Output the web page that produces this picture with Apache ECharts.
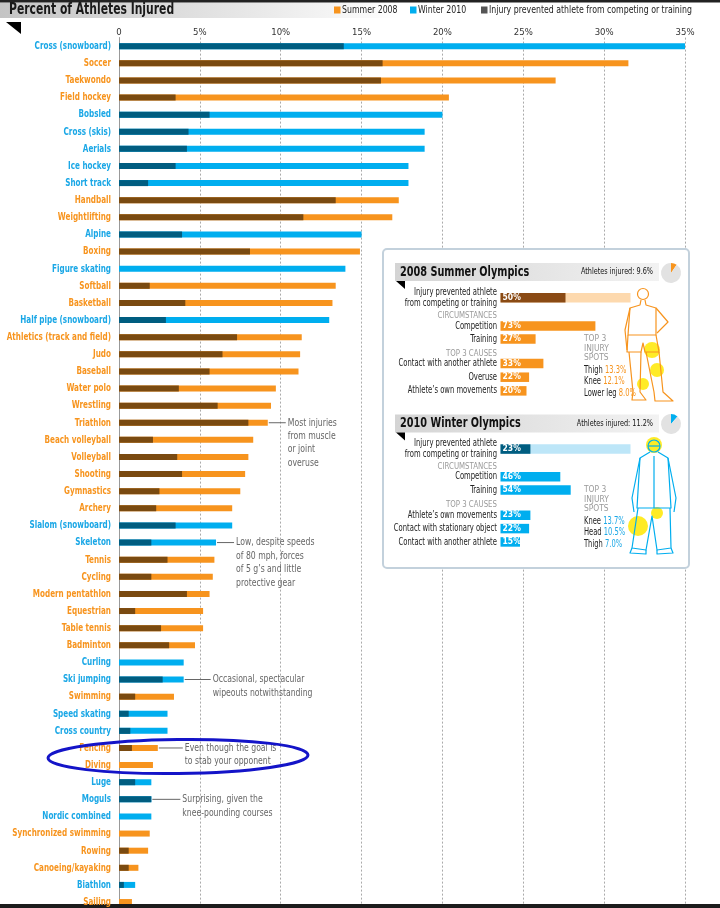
<!DOCTYPE html>
<html>
<head>
<meta charset="utf-8">
<script src="https://cdn.jsdelivr.net/npm/echarts@6/dist/echarts.min.js"></script>
<style>
  html, body { margin: 0; padding: 0; background: #fff; }
  #chart { width: 720px; height: 908px; }
</style>
</head>
<body>
<div id="chart"></div>
<script>
// main chart data, top to bottom
var sports = ['Cross (snowboard)', 'Soccer', 'Taekwondo', 'Field hockey', 'Bobsled', 'Cross (skis)', 'Aerials',
  'Ice hockey', 'Short track', 'Handball', 'Weightlifting', 'Alpine', 'Boxing', 'Figure skating', 'Softball',
  'Basketball', 'Half pipe (snowboard)', 'Athletics (track and field)', 'Judo', 'Baseball', 'Water polo',
  'Wrestling', 'Triathlon', 'Beach volleyball', 'Volleyball', 'Shooting', 'Gymnastics', 'Archery',
  'Slalom (snowboard)', 'Skeleton', 'Tennis', 'Cycling', 'Modern pentathlon', 'Equestrian', 'Table tennis',
  'Badminton', 'Curling', 'Ski jumping', 'Swimming', 'Speed skating', 'Cross country', 'Fencing', 'Diving',
  'Luge', 'Moguls', 'Nordic combined', 'Synchronized swimming', 'Rowing', 'Canoeing/kayaking', 'Biathlon', 'Sailing'];
var games = ['W', 'S', 'S', 'S', 'W', 'W', 'W', 'W', 'W', 'S', 'S', 'W', 'S', 'W', 'S', 'S', 'W', 'S', 'S', 'S', 'S',
  'S', 'S', 'S', 'S', 'S', 'S', 'S', 'W', 'W', 'S', 'S', 'S', 'S', 'S', 'S', 'W', 'W', 'S', 'W', 'W', 'S', 'S',
  'W', 'W', 'W', 'S', 'S', 'S', 'W', 'S'];
var injured = [35.0, 31.5, 27.0, 20.4, 20.0, 18.9, 18.9, 17.9, 17.9, 17.3, 16.9, 15.0, 14.9, 14.0, 13.4, 13.2, 13.0,
  11.3, 11.2, 11.1, 9.7, 9.4, 9.2, 8.3, 8.0, 7.8, 7.5, 7.0, 7.0, 6.0, 5.9, 5.8, 5.6, 5.2, 5.2, 4.7, 4.0, 4.0, 3.4,
  3.0, 3.0, 2.4, 2.1, 2.0, 2.0, 2.0, 1.9, 1.8, 1.2, 1.0, 0.8];
var prevented = [13.9, 16.3, 16.2, 3.5, 5.6, 4.3, 4.2, 3.5, 1.8, 13.4, 11.4, 3.9, 8.1, 0, 1.9, 4.1, 2.9,
  7.3, 6.4, 5.6, 3.7, 6.1, 8.0, 2.1, 3.6, 3.9, 2.5, 2.3, 3.5, 2.0, 3.0, 2.0, 4.2, 1.0, 2.6, 3.1, 0, 2.7, 1.0,
  0.6, 0.7, 0.8, 0, 1.0, 2.0, 0, 0, 0.6, 0.6, 0.3, 0];

// notes beside some bars: [sport, connector length, lines]
var notes = [
  ['Triathlon', 18, ['Most injuries', 'from muscle', 'or joint', 'overuse']],
  ['Skeleton', 18, ['Low, despite speeds', 'of 80 mph, forces', 'of 5 g\u2019s and little', 'protective gear']],
  ['Ski jumping', 27, ['Occasional, spectacular', 'wipeouts notwithstanding']],
  ['Fencing', 25, ['Even though the goal is', 'to stab your opponent']],
  ['Moguls', 29, ['Surprising, given the', 'knee-pounding courses']]
];

// inset: 2008 summer
var summerInjured = 9.6;
var summerPrevented = 50;
var summerCircLabels = ['Competition', 'Training'];
var summerCirc = [73, 27];
var summerCauseLabels = ['Contact with another athlete', 'Overuse', 'Athlete\u2019s own movements'];
var summerCauses = [33, 22, 20];
var summerSpots = ['Thigh', 'Knee', 'Lower leg'];
var summerSpotValues = ['13.3%', '12.1%', '8.0%'];

// inset: 2010 winter
var winterInjured = 11.2;
var winterPrevented = 23;
var winterCircLabels = ['Competition', 'Training'];
var winterCirc = [46, 54];
var winterCauseLabels = ['Athlete\u2019s own movements', 'Contact with stationary object', 'Contact with another athlete'];
var winterCauses = [23, 22, 15];
var winterSpots = ['Knee', 'Head', 'Thigh'];
var winterSpotValues = ['13.7%', '10.5%', '7.0%'];

var FONT = "'Liberation Sans Narrow', 'DejaVu Sans Condensed', sans-serif";
var ORANGE = '#f7941e', BLUE = '#00aeef', BROWN = '#7a4a10', TEAL = '#005d80';
var LABEL_BLUE = '#1aa7e6';

var chart = echarts.init(document.getElementById('chart'));

function pick(arr, g) {
  return arr.map(function (v, i) { return games[i] === g && v > 0 ? v : '-'; });
}

// narrow text: the print font is much more condensed than anything installed
function txt(x, y, text, font, fill, o) {
  o = o || {};
  return {
    type: 'text', z: o.z || 30, x: x, y: y, scaleX: o.sx || 0.78, silent: true,
    style: { x: 0, y: 0, text: text, font: font + ' ' + FONT, fill: fill,
      align: o.align || 'left', verticalAlign: o.va || 'middle', lineHeight: o.lh, rich: o.rich }
  };
}

var grids = [{ left: 119, right: 35, top: 37.6, height: 873, outerBoundsMode: 'none' }];
var xAxes = [{
  type: 'value', position: 'top', min: 0, max: 35, interval: 5,
  axisLine: { show: false }, axisTick: { show: false },
  axisLabel: { fontFamily: FONT, fontSize: 9.5, color: '#333', margin: 0,
    formatter: function (v) { return v === 0 ? '0' : v + '%'; } },
  splitLine: { lineStyle: { color: '#aaa', type: [2, 2], width: 1 } }
}];
var yAxes = [{
  type: 'category', inverse: true, data: sports,
  axisLine: { lineStyle: { color: '#999' } }, axisTick: { show: false }, axisLabel: { show: false }
}];
var series = [
  { name: 'Summer 2008', type: 'bar', data: pick(injured, 'S'), barWidth: 6, barGap: '-100%', itemStyle: { color: ORANGE } },
  { name: 'Winter 2010', type: 'bar', data: pick(injured, 'W'), barWidth: 6, barGap: '-100%', itemStyle: { color: BLUE } },
  { name: 'Prevented (summer)', type: 'bar', data: pick(prevented, 'S'), barWidth: 6, barGap: '-100%', itemStyle: { color: BROWN } },
  { name: 'Prevented (winter)', type: 'bar', data: pick(prevented, 'W'), barWidth: 6, barGap: '-100%', itemStyle: { color: TEAL } }
];

// one small bar panel inside the inset box
var panels = [];
function panel(top, height, labels, values, color, bg) {
  var k = grids.length;
  panels.push({ k: k, labels: labels });
  grids.push({ left: 500.5, top: top, width: 130, height: height, outerBoundsMode: 'none' });
  xAxes.push({ gridIndex: k, type: 'value', min: 0, max: 100, show: false });
  yAxes.push({ gridIndex: k, type: 'category', inverse: true, data: labels, show: false });
  series.push({
    type: 'bar', xAxisIndex: k, yAxisIndex: k, data: values, barWidth: 9.5, z: 20, silent: true,
    itemStyle: { color: color },
    showBackground: !!bg, backgroundStyle: { color: bg || 'transparent' },
    label: { show: true, position: 'insideLeft', distance: 2, formatter: '{c}%',
      fontFamily: FONT, fontSize: 8.5, fontWeight: 'bold', color: '#fff' }
  });
}

var twoLine = ['Injury prevented athlete\nfrom competing or training'];
panel(293, 9.5, twoLine, [summerPrevented], '#8a4a14', '#fdd9ae');
panel(319.5, 26, summerCircLabels, summerCirc, ORANGE);
panel(356.7, 41, summerCauseLabels, summerCauses, ORANGE);
panel(444.3, 9.5, twoLine, [winterPrevented], TEAL, '#bde6f8');
panel(470.2, 26.4, winterCircLabels, winterCirc, BLUE);
panel(508.6, 40, winterCauseLabels, winterCauses, BLUE);

function smallPie(cy, v, color) {
  series.push({
    type: 'pie', center: [671, cy], radius: 10, z: 20, silent: true, label: { show: false },
    startAngle: 90, data: [{ value: v, itemStyle: { color: color } },
      { value: 100 - v, itemStyle: { color: '#e2e2e2' } }]
  });
}
smallPie(273, summerInjured, ORANGE);
smallPie(424, winterInjured, BLUE);

// ---- graphics: frame, title band, legend, inset box, figures ----
var g = [];
g.push({ type: 'rect', shape: { x: 0, y: 0, width: 720, height: 2.5 }, style: { fill: '#222' }, z: 30 });
g.push({ type: 'rect', shape: { x: 0, y: 2.5, width: 400, height: 15.5 }, z: 1,
  style: { fill: new echarts.graphic.LinearGradient(0, 0, 1, 0, [
    { offset: 0, color: '#c4c4c4' }, { offset: 0.6, color: '#e6e6e6' }, { offset: 1, color: '#fff' }]) } });
g.push(txt(9, 10.5, 'Percent of Athletes Injured', 'bold 15px', '#1a1a1a', { sx: 0.8 }));
g.push({ type: 'polygon', shape: { points: [[6, 22], [21, 22], [21, 34]] }, style: { fill: '#000' }, z: 30 });
g.push({ type: 'rect', shape: { x: 0, y: 904, width: 720, height: 4 }, style: { fill: '#1c1c1c' }, z: 30 });

// legend
[[334, ORANGE, 'Summer 2008'], [410, BLUE, 'Winter 2010'],
 [481, '#555', 'Injury prevented athlete from competing or training']].forEach(function (l) {
  g.push({ type: 'rect', z: 30, shape: { x: l[0], y: 6.5, width: 6.5, height: 7 }, style: { fill: l[1] } });
  g.push(txt(l[0] + 8, 10.5, l[2], '11px', '#222', { sx: 0.79 }));
});

// hand-drawn highlight round Fencing
g.push({ type: 'ellipse', shape: { cx: 178, cy: 756.5, rx: 130, ry: 17 }, rotation: 0.012, originX: 178, originY: 756,
  style: { fill: 'none', stroke: '#1414c8', lineWidth: 3 }, z: 40 });

// inset box
g.push({ type: 'rect', shape: { x: 383, y: 249, width: 306, height: 319, r: 4 },
  style: { fill: '#fff', stroke: '#c3d1dc', lineWidth: 2 }, z: 5 });

function header(y, title, inj) {
  g.push({ type: 'rect', shape: { x: 395, y: y - 9, width: 264, height: 18 }, z: 6,
    style: { fill: new echarts.graphic.LinearGradient(0, 0, 1, 0, [
      { offset: 0, color: '#d4d4d4' }, { offset: 1, color: '#f2f2f2' }]) } });
  g.push(txt(400, y, title, 'bold 13.5px', '#111', { sx: 0.8 }));
  g.push(txt(653, y, 'Athletes injured: ' + inj + '%', '9.5px', '#111', { sx: 0.76, align: 'right' }));
  g.push({ type: 'polygon', z: 30, shape: { points: [[396, y + 9], [405, y + 9], [405, y + 17]] }, style: { fill: '#000' } });
}
header(272, '2008 Summer Olympics', summerInjured);
header(423.5, '2010 Winter Olympics', winterInjured);

function caption(y, text) {
  g.push(txt(497, y, text, '9.5px', '#9a9a9a', { sx: 0.82, align: 'right' }));
}
caption(315.5, 'CIRCUMSTANCES');
caption(353.5, 'TOP 3 CAUSES');
caption(466.5, 'CIRCUMSTANCES');
caption(504.5, 'TOP 3 CAUSES');

function spots(y0, names, vals, color) {
  g.push(txt(584, y0, 'TOP 3\nINJURY\nSPOTS', '9.5px', '#9a9a9a', { sx: 0.88, va: 'top', lh: 9.6 }));
  names.forEach(function (n, i) {
    g.push(txt(584, y0 + 36 + i * 11.7, '{k|' + n + '} {v|' + vals[i] + '}', '10px', '#222', {
      sx: 0.75,
      rich: { k: { fontFamily: FONT, fontSize: 10, fill: '#222' },
              v: { fontFamily: FONT, fontSize: 10, fill: color } } }));
  });
}
spots(334, summerSpots, summerSpotValues, ORANGE);
spots(485, winterSpots, winterSpotValues, LABEL_BLUE);

// figures
function spot(cx, cy, r) {
  g.push({ type: 'circle', z: 24, shape: { cx: cx, cy: cy, r: r }, style: { fill: 'rgba(255,232,0,0.85)' } });
}
function outline(points, color) {
  g.push({ type: 'polyline', z: 26, shape: { points: points },
    style: { stroke: color, lineWidth: 1.2, fill: 'none', lineJoin: 'round' } });
}
spot(652, 350, 8); spot(657, 370, 7); spot(643, 384, 6);
g.push({ type: 'circle', z: 26, shape: { cx: 643, cy: 294, r: 5.5 }, style: { fill: 'none', stroke: ORANGE, lineWidth: 1.2 } });
[
  [[641, 300], [640, 305], [630, 308], [628, 335], [656, 335], [656, 308], [646, 305], [645, 300]],
  [[630, 308], [625, 330], [627, 350]],
  [[656, 308], [668, 322], [657, 333]],
  [[628, 335], [627, 352], [641, 352], [643, 343], [645, 352], [659, 352], [656, 335]],
  [[629, 352], [633, 392], [632, 400], [646, 400], [640, 392], [641, 352]],
  [[646, 352], [654, 392], [655, 401], [673, 401], [663, 392], [659, 352]]
].forEach(function (p) { outline(p, ORANGE); });

spot(654, 445, 8); spot(638, 526, 10); spot(657, 513, 6);
g.push({ type: 'circle', z: 26, shape: { cx: 654, cy: 446, r: 6 }, style: { fill: 'none', stroke: BLUE, lineWidth: 1.2 } });
[
  [[648, 446], [660, 446]],
  [[650, 452], [640, 458], [637, 508], [671, 508], [668, 458], [658, 452]],
  [[654, 456], [654, 508]],
  [[640, 458], [632, 498], [634, 512]],
  [[668, 458], [676, 498], [674, 512]],
  [[638, 508], [632, 548], [646, 550], [652, 516], [657, 550], [671, 548], [670, 508]],
  [[632, 548], [630, 553], [646, 554], [646, 550]],
  [[657, 550], [657, 554], [673, 553], [671, 548]]
].forEach(function (p) { outline(p, BLUE); });

chart.setOption({
  animation: false,
  textStyle: { fontFamily: FONT },
  grid: grids, xAxis: xAxes, yAxis: yAxes, series: series,
  graphic: g
});

// category labels, placed on the category axis
sports.forEach(function (s, i) {
  var p = chart.convertToPixel({ gridIndex: 0 }, [0, i]);
  g.push(txt(111, p[1], s, 'bold 11px', games[i] === 'S' ? ORANGE : LABEL_BLUE, { sx: 0.73, align: 'right' }));
});
panels.forEach(function (pn) {
  pn.labels.forEach(function (s, j) {
    var p = chart.convertToPixel({ gridIndex: pn.k }, [0, j]);
    g.push(txt(497, p[1], s, '10px', '#222', { sx: 0.76, align: 'right', lh: 10.5 }));
  });
});

// connector lines and note text next to the bars
notes.forEach(function (n) {
  var i = sports.indexOf(n[0]);
  var p = chart.convertToPixel({ gridIndex: 0 }, [injured[i], i]);
  var x0 = p[0] + 1, x1 = p[0] + n[1];
  g.push({ type: 'line', z: 30, shape: { x1: x0, y1: p[1], x2: x1, y2: p[1] }, style: { stroke: '#666', lineWidth: 1 } });
  g.push(txt(x1 + 2, p[1] - 6.7, n[2].join('\n'), '11px', '#666', { sx: 0.78, va: 'top', lh: 13.4 }));
});
chart.setOption({ graphic: g });
</script>
</body>
</html>
